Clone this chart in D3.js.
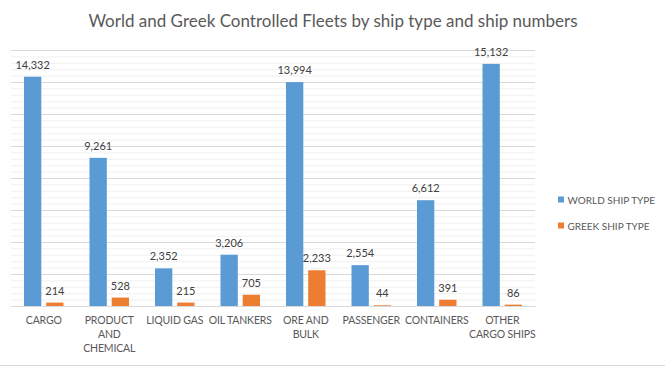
<!DOCTYPE html>
<html>
<head>
<meta charset="utf-8">
<script src="https://cdn.jsdelivr.net/npm/d3@7"></script>
<style>
  body { margin: 0; background: #fff; }
  text { font-family: Lato, "Open Sans", sans-serif; }
</style>
</head>
<body>
<div id="chartContainer"></div>
<script>
// data
const categories = ["CARGO", "PRODUCT AND CHEMICAL", "LIQUID GAS", "OIL TANKERS", "ORE AND BULK", "PASSENGER", "CONTAINERS", "OTHER CARGO SHIPS"];
const categoryLines = [["CARGO"], ["PRODUCT", "AND", "CHEMICAL"], ["LIQUID GAS"], ["OIL TANKERS"], ["ORE AND", "BULK"], ["PASSENGER"], ["CONTAINERS"], ["OTHER", "CARGO SHIPS"]];
const seriesNames = ["WORLD SHIP TYPE", "GREEK SHIP TYPE"];
const worldValues = [14332, 9261, 2352, 3206, 13994, 2554, 6612, 15132];
const greekValues = [214, 528, 215, 705, 2233, 44, 391, 86];
const colors = ["#5B9BD5", "#ED7D31"];

const W = 665, H = 367;
const margin = { top: 50, left: 11, right: 130, bottom: 61 };
const width = W - margin.left - margin.right,
  height = H - margin.top - margin.bottom;

const svg = d3.select("#chartContainer").append("svg")
  .attr("width", W).attr("height", H);

// title
svg.append("text")
  .attr("x", 333).attr("y", 27)
  .attr("text-anchor", "middle")
  .style("font-size", "17px")
  .style("fill", "#595959")
  .text("World and Greek Controlled Fleets by ship type and ship numbers");

// outer border line at bottom
svg.append("line")
  .attr("x1", 0).attr("x2", W).attr("y1", H - 1.5).attr("y2", H - 1.5)
  .style("stroke", "#D9D9D9");

const g = svg.append("g").attr("transform", "translate(" + margin.left + "," + margin.top + ")");

const rows = categories.map((c, i) => ({ cat: c, vals: [worldValues[i], greekValues[i]] }));

const x0 = d3.scaleBand().domain(categories).range([0, width]).padding(0);
const x1 = d3.scaleBand().domain([0, 1]).range([13, x0.bandwidth() - 13]).paddingInner(0.22);
const y = d3.scaleLinear().domain([0, 16000]).range([height, 0]);

// minor gridlines
g.append("g")
  .call(d3.axisLeft(y).tickValues(d3.range(0, 16001, 400)).tickSize(-width).tickFormat(""))
  .call(a => a.select(".domain").remove())
  .call(a => a.selectAll(".tick line").style("stroke", "#F0F0F0"));

// major gridlines
g.append("g")
  .call(d3.axisLeft(y).tickValues(d3.range(0, 16001, 2000)).tickSize(-width).tickFormat(""))
  .call(a => a.select(".domain").remove())
  .call(a => a.selectAll(".tick line").style("stroke", "#D9D9D9"));

// category axis
const xAxis = g.append("g")
  .attr("transform", "translate(0," + height + ")")
  .call(d3.axisBottom(x0).tickSize(0).tickFormat(""));
xAxis.select(".domain").style("stroke", "#D9D9D9");

xAxis.selectAll(".tick").each(function (d, i) {
  const t = d3.select(this).append("text")
    .attr("text-anchor", "middle")
    .style("font-size", "10.5px")
    .style("letter-spacing", "-0.15px")
    .style("fill", "#595959")
    .attr("y", 18);
  categoryLines[i].forEach((ln, k) => {
    t.append("tspan").attr("x", 0).attr("dy", k === 0 ? 0 : 14).text(ln);
  });
});

// bars
const groups = g.selectAll(".grp").data(rows).enter().append("g")
  .attr("class", "grp")
  .attr("transform", d => "translate(" + x0(d.cat) + ",0)");

groups.selectAll("rect").data(d => d.vals.map((v, k) => ({ k, v }))).enter().append("rect")
  .attr("x", d => x1(d.k))
  .attr("width", x1.bandwidth())
  .attr("y", d => y(d.v))
  .attr("height", d => height - y(d.v))
  .style("fill", d => colors[d.k]);

groups.selectAll(".lbl").data(d => d.vals.map((v, k) => ({ k, v }))).enter().append("text")
  .attr("class", "lbl")
  .attr("x", d => x1(d.k) + x1.bandwidth() / 2)
  .attr("y", d => y(d.v) - 8)
  .attr("text-anchor", "middle")
  .style("font-size", "11px")
  .style("fill", "#404040")
  .text(d => d3.format(",")(d.v));

// legend
const legend = svg.append("g").attr("transform", "translate(558,200)");
seriesNames.forEach((s, i) => {
  const row = legend.append("g").attr("transform", "translate(0," + i * 26 + ")");
  row.append("rect").attr("x", 0).attr("y", -3.5).attr("width", 6).attr("height", 6).style("fill", colors[i]);
  row.append("text").attr("x", 9.5).attr("y", 3.5)
    .style("font-size", "10px").style("fill", "#595959").text(s);
});
</script>
</body>
</html>
